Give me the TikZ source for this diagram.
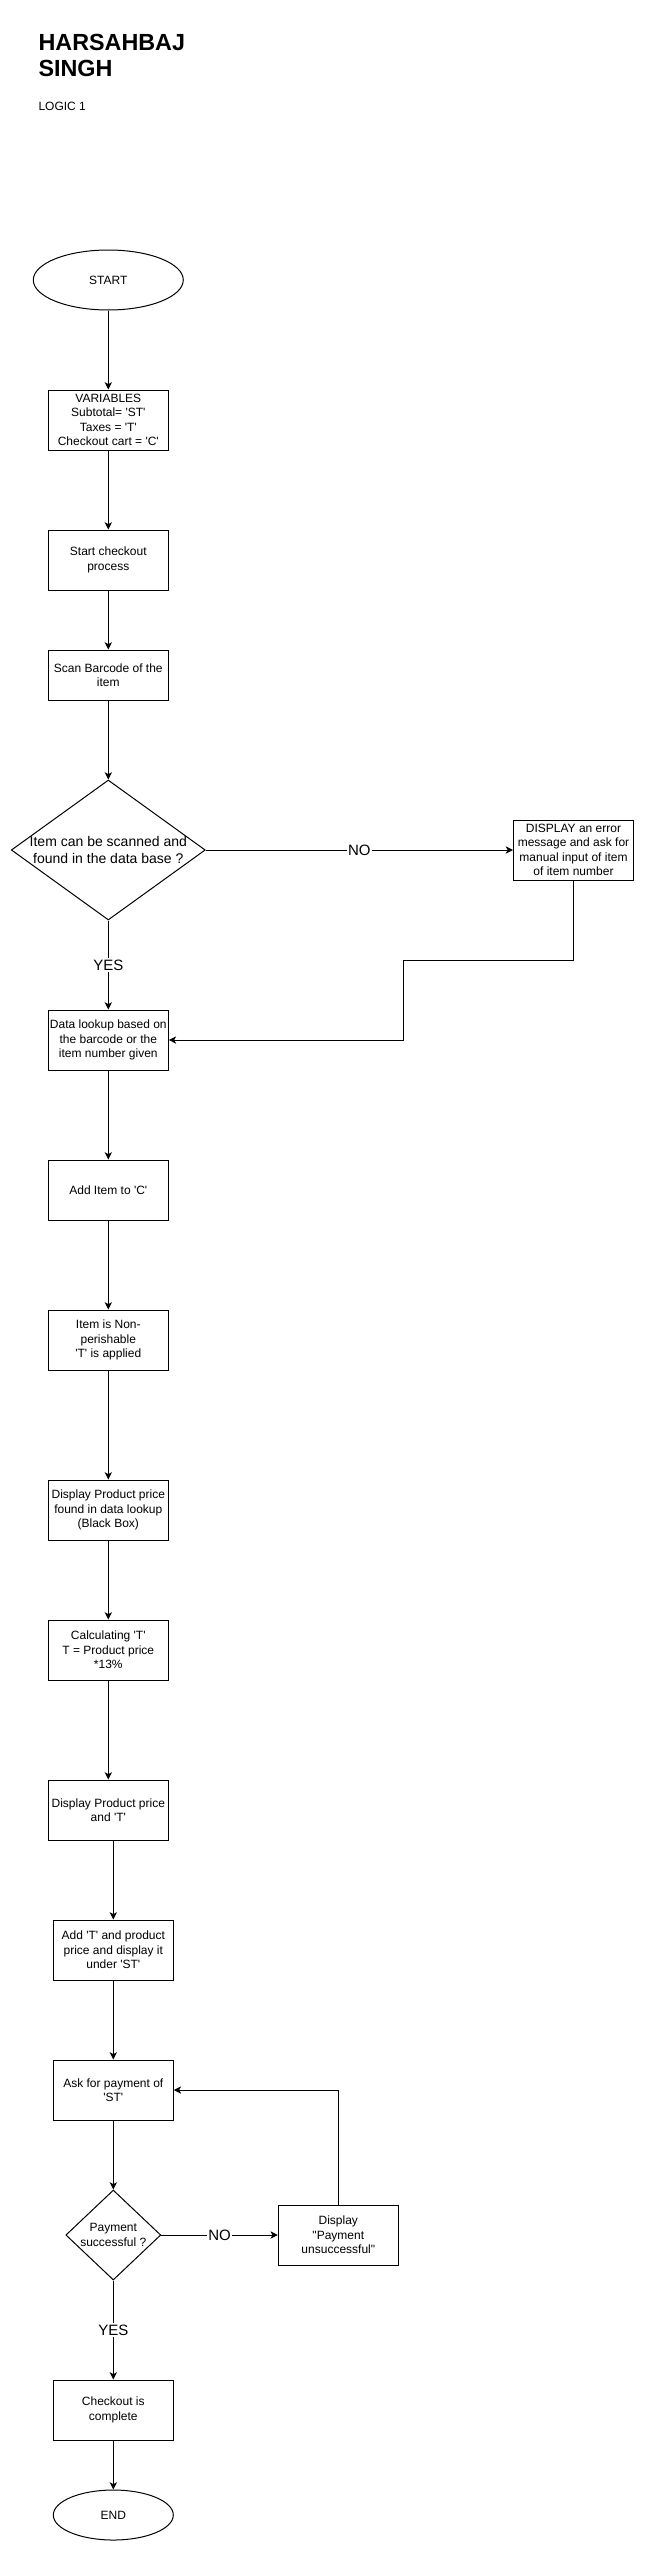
\documentclass[tikz,border=0pt]{standalone}
\usepackage{fontspec}
\setmainfont{Liberation Sans}[Ligatures=TeXOff]
\usetikzlibrary{shapes.geometric,arrows.meta}
\begin{document}
\begin{tikzpicture}[x=0.75pt,y=-0.75pt,
  every node/.style={font=\fontsize{9pt}{10.9pt}\selectfont, align=center, inner sep=0pt, text=black},
  box/.style={draw, line width=0.75pt, minimum width=90pt, minimum height=45pt},
  shortbox/.style={box, minimum height=37.5pt},
  oval/.style={draw, ellipse, line width=0.75pt, minimum width=90pt, minimum height=37.5pt},
  dia/.style={draw, diamond, line width=0.75pt},
  arr/.style={draw, line width=0.75pt, -{Stealth[length=5.5pt,width=5.5pt,inset=1.5pt]}},
  lab/.style={fill=white, font=\fontsize{11.25pt}{13pt}\selectfont, inner sep=1pt},
  titletext/.style={anchor=base west, font=\fontsize{17.5pt}{21pt}\selectfont\bfseries, align=left}
]
\useasboundingbox (0,0) rectangle (644,2551);
\fill[white] (0,0) rectangle (644,2551);

% title
\node[titletext] (t1) at (38.3,50.7) {HARSAHBAJ};
\node[titletext] (t2) at (38.3,76.7) {SINGH};
\node[anchor=base west] (t3) at (38.3,110.7) {LOGIC 1};

% nodes
\node[oval, minimum width=112.5pt, minimum height=45pt] (start) at (108.3,280) {START};
\node[box] (var) at (108.3,420) {VARIABLES\\Subtotal= 'ST'\\Taxes = 'T'\\Checkout cart = 'C'};
\node[box] (scp) at (108.3,560) {Start checkout\\process};
\node[shortbox] (scan) at (108.3,675) {Scan Barcode of the\\item};
\node[dia, minimum width=145.5pt, minimum height=105pt] (d1) at (108.3,850) {};
\node[font=\fontsize{10.5pt}{12.6pt}\selectfont] (d1t) at (d1) {Item can be scanned and\\found in the data base ?};
\node[box] (err) at (573.5,850) {DISPLAY an error\\message and ask for\\manual input of item\\of item number};
\node[box] (data) at (108.3,1040) {Data lookup based on\\the barcode or the\\item number given};
\node[box] (add) at (108.3,1190) {Add Item to 'C'};
\node[box] (nonp) at (108.3,1340) {Item is Non-\\perishable\\'T' is applied};
\node[box] (disp) at (108.3,1510) {Display Product price\\found in data lookup\\(Black Box)};
\node[box] (calc) at (108.3,1650) {Calculating 'T'\\T = Product price\\*13\%};
\node[box] (dpt) at (108.3,1810) {Display Product price\\and 'T'};
\node[box] (addt) at (113.3,1950) {Add 'T' and product\\price and display it\\under 'ST'};
\node[box] (ask) at (113.3,2090) {Ask for payment of\\'ST'};
\node[dia, minimum width=71.25pt, minimum height=67.5pt] (d2) at (113.3,2235) {};
\node (d2t) at (d2) {Payment\\successful ?};
\node[box] (uns) at (338.3,2235) {Display\\"Payment\\unsuccessful"};
\node[box] (done) at (113.3,2410) {Checkout is\\complete};
\node[oval] (end) at (113.3,2515) {END};

\coordinate (bend) at (403.3,960.7);

% connectors
\draw[arr] (start) -- (var);
\draw[arr] (var) -- (scp);
\draw[arr] (scp) -- (scan);
\draw[arr] (scan) -- (d1);
\draw[arr] (d1.east) -- node[lab] {NO} (err.west);
\draw[arr] (d1.south) -- node[lab] {YES} (data.north);
\draw[arr] (err.south) |- (bend) |- (data.east);
\draw[arr] (data) -- (add);
\draw[arr] (add) -- (nonp);
\draw[arr] (nonp) -- (disp);
\draw[arr] (disp) -- (calc);
\draw[arr] (calc) -- (dpt);
\draw[arr] (addt.north |- dpt.south) -- (addt.north);
\draw[arr] (addt) -- (ask);
\draw[arr] (ask) -- (d2);
\draw[arr] (d2.east) -- node[lab] {NO} (uns.west);
\draw[arr] (uns.north) |- (ask.east);
\draw[arr] (d2.south) -- node[lab] {YES} (done.north);
\draw[arr] (done) -- (end);
\end{tikzpicture}
\end{document}
